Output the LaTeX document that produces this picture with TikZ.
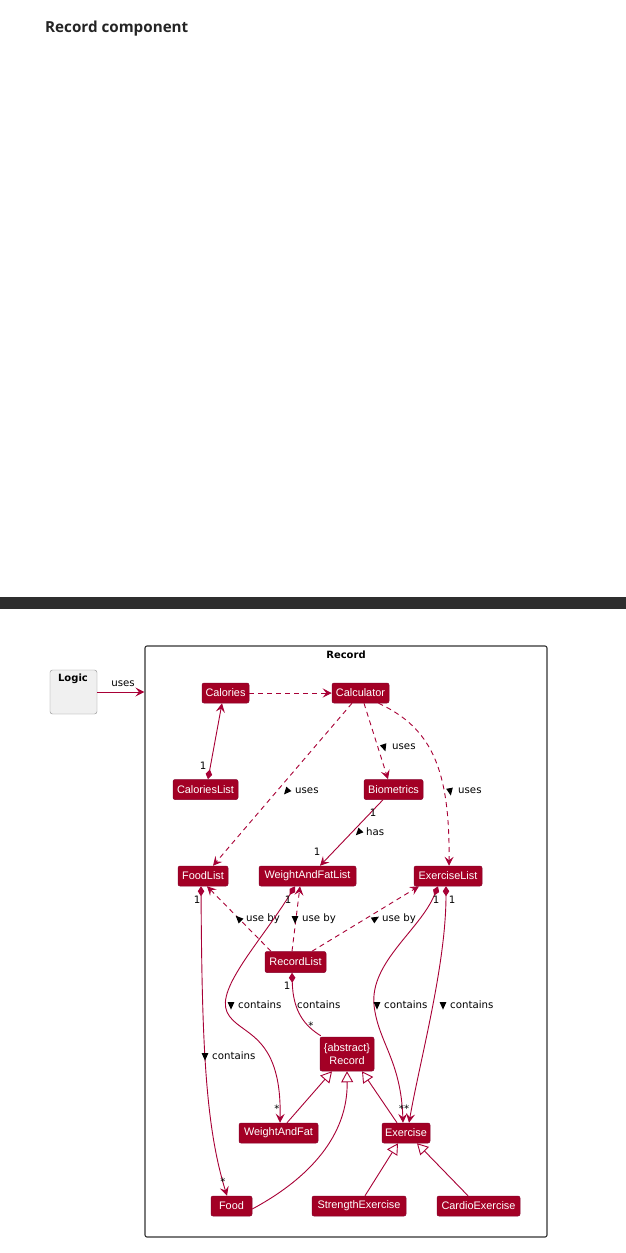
\documentclass[tikz,border=0pt]{standalone}
\usepackage{fontspec}
\usetikzlibrary{arrows.meta,calc}
\newfontfamily\clsfont{Liberation Sans}
\newfontfamily\lblfont{DejaVu Sans}
\newfontfamily\headfont{Open Sans}
\definecolor{rose}{HTML}{A80036}
\definecolor{rosebox}{HTML}{A30025}
\definecolor{framegrey}{HTML}{333333}
\definecolor{headink}{HTML}{242424}
\definecolor{barink}{HTML}{2E2E2E}
\tikzset{
  cls/.style={rectangle, rounded corners=2pt, fill=rosebox, draw=rose!80!black,
    line width=0.5pt, text=white, font=\clsfont\fontsize{10.9}{12}\selectfont,
    inner xsep=0pt, inner ysep=0pt, minimum height=20pt},
  lbl/.style={font=\lblfont\fontsize{10.2}{11}\selectfont, text=black, inner sep=0pt, anchor=west},
  mult/.style={font=\lblfont\fontsize{10.2}{11}\selectfont, text=black, inner sep=0pt},
  link/.style={draw=rose, line width=0.9pt},
  dep/.style={link, dash pattern=on 5pt off 4pt},
  tip/.style={-{Stealth[length=9pt,width=9pt,inset=3.5pt]}},
  comp/.style={{Diamond[length=10pt,width=6.5pt]}-{Stealth[length=9pt,width=9pt,inset=3.5pt]}},
  compnotip/.style={{Diamond[length=10pt,width=6.5pt]}-},
  inh/.style={link, -{Triangle[open,length=11pt,width=12pt,fill=white]}},
  dirtri/.pic={\fill[black] (0:4.6) -- (130:4.4) -- (230:4.4) -- cycle;}
}
\begin{document}
\begin{tikzpicture}[x=1pt,y=-1pt]
\useasboundingbox (0,0) rectangle (626,1253);
\fill[white] (0,0) rectangle (626,1253);

% page heading and separator bar
\node[anchor=base west, inner sep=0pt, text=headink,
  font=\headfont\bfseries\fontsize{15.2}{18}\selectfont] (heading) at (45,32) {Record component};
\fill[barink] (0,597) rectangle (626,609);

% component frame
\node[draw=framegrey, line width=1.1pt, rounded corners=2pt, minimum width=402pt,
  minimum height=591pt, inner sep=0pt] (recframe) at (346,941.5) {};
\node[font=\lblfont\bfseries\fontsize{10}{12}\selectfont, inner sep=0pt] (frametitle) at (346,655) {Record};

% external component
\node[draw=black!45, fill=black!6, rounded corners=2.5pt, minimum width=47pt,
  minimum height=44pt, inner sep=0pt] (logic) at (73.5,692) {};
\node[font=\lblfont\bfseries\fontsize{10}{12}\selectfont, inner sep=0pt] (logictitle) at (73,679) {Logic};

% classes
\node[cls, minimum width=47pt] (calories) at (225.5,693) {Calories};
\node[cls, minimum width=57pt] (calculator) at (360.5,693) {Calculator};
\node[cls, minimum width=65pt] (calorieslist) at (205.5,789.5) {CaloriesList};
\node[cls, minimum width=59pt] (biometrics) at (393.5,789.5) {Biometrics};
\node[cls, minimum width=50pt] (foodlist) at (203,876) {FoodList};
\node[cls, minimum width=97pt] (wflist) at (307.5,876) {WeightAndFatList};
\node[cls, minimum width=68pt] (exlist) at (448,876) {ExerciseList};
\node[cls, minimum width=61pt, minimum height=21pt] (recordlist) at (295.5,962) {RecordList};
\node[cls, minimum width=54pt, minimum height=34pt, align=center,
  font=\clsfont\fontsize{10.9}{13}\selectfont] (record) at (347,1054) {\{abstract\}\\Record};
\node[cls, minimum width=79pt] (wf) at (278.5,1133) {WeightAndFat};
\node[cls, minimum width=48pt] (exercise) at (406,1133) {Exercise};
\node[cls, minimum width=41pt] (food) at (231.5,1206) {Food};
\node[cls, minimum width=94pt] (strength) at (359,1206) {StrengthExercise};
\node[cls, minimum width=83pt] (cardio) at (478.5,1206) {CardioExercise};

% Logic uses Record
\draw[link, tip] (logic.east) -- (logic.east -| recframe.west);
\node[lbl, anchor=center] (usesA) at (123,684) {uses};

% dependencies from Calories and Calculator
\draw[dep, tip] (calories.east) -- (calculator.west);
\draw[link, comp] ([xshift=2.5pt]calorieslist.north) -- ([xshift=-3.5pt]calories.south);
\node[mult] (mCal) at (203,766) {1};

\draw[dep, tip] ([xshift=-8.5pt]calculator.south) -- ([xshift=10pt]foodlist.north);
\pic[rotate=-131] at (287,791) {dirtri};
\node[lbl] (usesB) at (295,791) {uses};

\draw[dep, tip] ([xshift=3.5pt]calculator.south) -- ([xshift=-5.5pt]biometrics.north);
\pic[rotate=-72] at (384,747) {dirtri};
\node[lbl] (usesC) at (392,747) {uses};

\draw[dep, tip] ([xshift=18pt]calculator.south) .. controls (432,728) and (450,770) .. ([xshift=1pt]exlist.north);
\pic[rotate=-80] at (450,791) {dirtri};
\node[lbl] (usesD) at (458,791) {uses};

% Biometrics has WeightAndFatList
\draw[link, tip] ([xshift=-10.5pt]biometrics.south) -- ([xshift=12.5pt]wflist.north);
\node[mult] (mBioA) at (373,813) {1};
\node[mult] (mBioB) at (317,852) {1};
\pic[rotate=-134] at (359,832) {dirtri};
\node[lbl] (hasA) at (366,832) {has};

% RecordList use by the three lists
\draw[dep, tip] ([xshift=-24.5pt]recordlist.north) -- ([xshift=4pt]foodlist.south);
\pic[rotate=135] at (239,919) {dirtri};
\node[lbl] (usebyA) at (246,919) {use by};
\draw[dep, tip] ([xshift=-3.5pt]recordlist.north) -- ([xshift=-7.5pt]wflist.south);
\pic[rotate=-90] at (295,919) {dirtri};
\node[lbl] (usebyB) at (302,919) {use by};
\draw[dep, tip] ([xshift=16.5pt]recordlist.north) -- ([xshift=-29pt]exlist.south);
\pic[rotate=31] at (375,919) {dirtri};
\node[lbl] (usebyC) at (382,919) {use by};

% composition: FoodList contains Food
\draw[link, comp] ([xshift=-2pt]foodlist.south) .. controls (202,1040) and (205,1125) .. ([xshift=-4.5pt]food.north);
\node[mult] (mFL) at (197,900) {1};
\node[mult] (mFood) at (223,1182) {*};
\pic[rotate=-90] at (205,1056) {dirtri};
\node[lbl] (containsE) at (212,1056) {contains};

% composition: WeightAndFatList contains WeightAndFat
\draw[link, comp] ([xshift=-12.5pt]wflist.south) .. controls (262,940) and (216,988) .. (227,1012)
  .. controls (238,1036) and (282,1030) .. ([xshift=1.5pt]wf.north);
\node[mult] (mWFL) at (288,900) {1};
\node[mult] (mWF) at (277,1109) {*};
\pic[rotate=-90] at (231,1005) {dirtri};
\node[lbl] (containsA) at (238,1005) {contains};

% composition: RecordList contains Record
\draw[link, compnotip] ([xshift=-3.5pt]recordlist.south) .. controls (293,1012) and (305,1026) .. ([xshift=1pt,yshift=1pt]record.north west);
\node[mult] (mRL) at (287,986) {1};
\node[mult] (mRec) at (311,1026) {*};
\node[lbl] (containsB) at (297,1005) {contains};

% composition: ExerciseList contains Exercise (twice)
\draw[link, comp] ([xshift=-10pt]exlist.south) .. controls (420,930) and (370,962) .. (374,1005)
  .. controls (378,1042) and (401,1060) .. ([xshift=-3pt]exercise.north);
\draw[link, comp] ([xshift=-2pt]exlist.south) .. controls (446,965) and (420,1060) .. ([xshift=3pt]exercise.north);
\node[mult] (mELA) at (436,900) {1};
\node[mult] (mELB) at (452,900) {1};
\node[mult] (mEx) at (404,1109) {**};
\pic[rotate=-90] at (377,1005) {dirtri};
\node[lbl] (containsC) at (384,1005) {contains};
\pic[rotate=-90] at (443,1005) {dirtri};
\node[lbl] (containsD) at (450,1005) {contains};

% generalisations
\draw[inh] ([xshift=8.5pt]wf.north) -- ([xshift=-15pt]record.south);
\draw[inh] ([yshift=-3pt]food.east) .. controls (310,1178) and (348,1135) .. (record.south);
\draw[inh] ([xshift=-9pt]exercise.north) -- ([xshift=15pt]record.south);
\draw[inh] ([xshift=6pt]strength.north) -- ([xshift=-8pt]exercise.south);
\draw[inh] ([xshift=-10.5pt]cardio.north) -- ([xshift=11pt]exercise.south);
\end{tikzpicture}
\end{document}
